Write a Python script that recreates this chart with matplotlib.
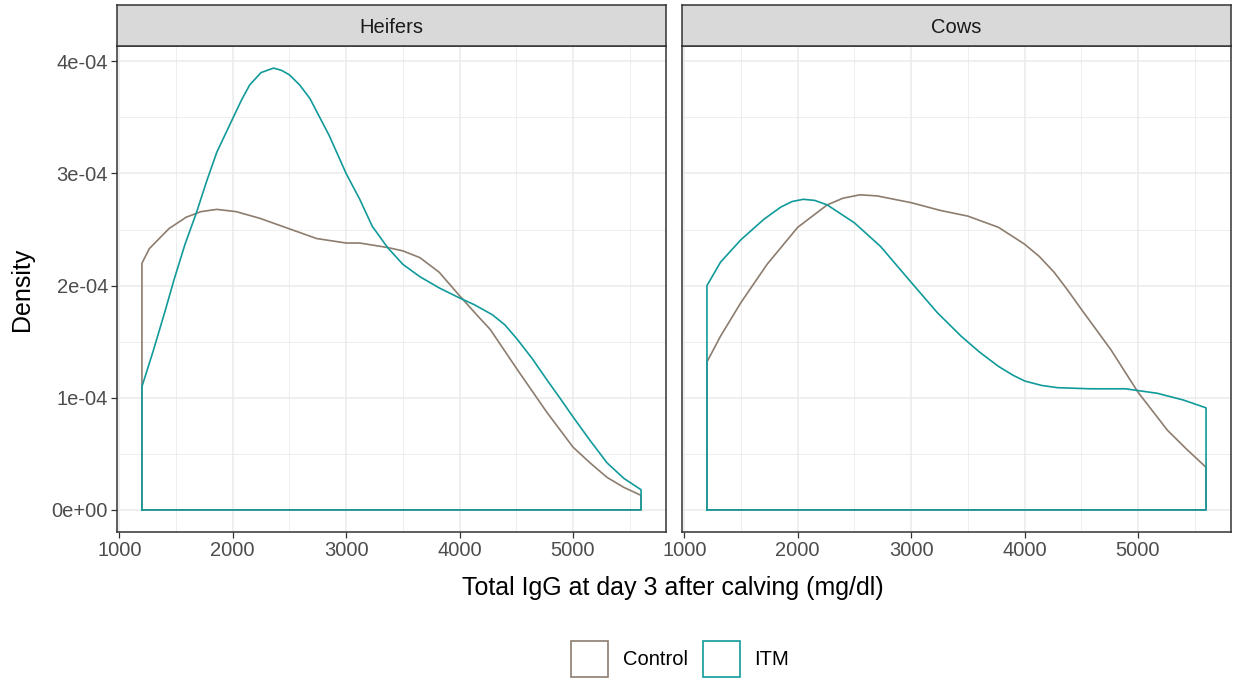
import numpy as np
import matplotlib
matplotlib.use('Agg')
import matplotlib.pyplot as plt
from matplotlib.patches import Patch

plt.rcParams['font.family'] = ['Liberation Sans', 'DejaVu Sans']

# densities, in units of 1e-4
panels = ['Heifers', 'Cows']
groups = ['Control', 'ITM']
colors = {'Control': '#8C7D6E', 'ITM': '#119A9A'}

heifers_control_x = [1200, 1265, 1440, 1590, 1720, 1860, 2030, 2240, 2490, 2740, 3000,
                     3120, 3365, 3500, 3650, 3820, 4000, 4160, 4270, 4510, 4770, 5000,
                     5150, 5300, 5450, 5600]
heifers_control_y = [2.20, 2.33, 2.51, 2.61, 2.66, 2.68, 2.66, 2.60, 2.51, 2.42, 2.38,
                     2.38, 2.34, 2.31, 2.25, 2.12, 1.91, 1.73, 1.61, 1.25, 0.87, 0.56,
                     0.42, 0.29, 0.20, 0.13]

heifers_itm_x = [1200, 1300, 1400, 1485, 1580, 1680, 1770, 1860, 2000, 2080, 2150, 2250,
                 2360, 2430, 2500, 2590, 2680, 2850, 3000, 3120, 3230, 3365, 3500, 3650,
                 3820, 4000, 4130, 4290, 4400, 4510, 4640, 4770, 4890, 5000, 5150, 5300,
                 5450, 5600]
heifers_itm_y = [1.10, 1.42, 1.76, 2.06, 2.37, 2.65, 2.93, 3.19, 3.49, 3.66, 3.79, 3.90,
                 3.94, 3.92, 3.88, 3.79, 3.67, 3.34, 3.00, 2.77, 2.53, 2.34, 2.19, 2.08,
                 1.98, 1.89, 1.83, 1.74, 1.65, 1.52, 1.35, 1.16, 0.99, 0.83, 0.62, 0.42,
                 0.28, 0.18]

cows_control_x = [1200, 1320, 1500, 1730, 2000, 2260, 2400, 2550, 2700, 2850, 3000, 3260,
                  3500, 3770, 4000, 4130, 4260, 4380, 4500, 4630, 4760, 4880, 5000, 5130,
                  5260, 5430, 5600]
cows_control_y = [1.32, 1.55, 1.85, 2.19, 2.52, 2.72, 2.78, 2.81, 2.80, 2.77, 2.74, 2.67,
                  2.62, 2.52, 2.37, 2.26, 2.12, 1.96, 1.79, 1.61, 1.43, 1.24, 1.05, 0.88,
                  0.71, 0.54, 0.38]

cows_itm_x = [1200, 1320, 1500, 1700, 1850, 1950, 2050, 2150, 2260, 2500, 2730, 3000,
              3230, 3440, 3600, 3770, 3900, 4000, 4150, 4290, 4580, 4890, 5170, 5400,
              5600]
cows_itm_y = [2.00, 2.21, 2.41, 2.59, 2.70, 2.75, 2.77, 2.76, 2.72, 2.56, 2.35, 2.03,
              1.76, 1.55, 1.41, 1.28, 1.20, 1.15, 1.11, 1.09, 1.08, 1.08, 1.04, 0.98,
              0.91]

curves = {
    ('Heifers', 'Control'): (heifers_control_x, heifers_control_y),
    ('Heifers', 'ITM'): (heifers_itm_x, heifers_itm_y),
    ('Cows', 'Control'): (cows_control_x, cows_control_y),
    ('Cows', 'ITM'): (cows_itm_x, cows_itm_y),
}

x_ticks = [1000, 2000, 3000, 4000, 5000]
y_ticks = [0, 1e-4, 2e-4, 3e-4, 4e-4]
y_labels = ['0e+00', '1e-04', '2e-04', '3e-04', '4e-04']

W, H = 1233, 683
fig = plt.figure(figsize=(W / 100, H / 100), dpi=100)

def fx(px):
    return px / W

def fy(py):
    return 1 - py / H

lefts = [117, 682]
pw = 549
top, bottom = 46, 532
strip_top = 5
edge = '#333333'
small = 14.5

for i, name in enumerate(panels):
    ax = fig.add_axes([fx(lefts[i]), fy(bottom), pw / W, (bottom - top) / H])
    xmin, xmax = 1200, 5600
    ax.set_xlim(xmin - 0.05 * (xmax - xmin), xmax + 0.05 * (xmax - xmin))
    ymax = max(heifers_itm_y) * 1e-4
    ax.set_ylim(-0.05 * ymax, ymax * 1.05)

    ax.set_xticks(x_ticks)
    ax.set_xticks([1500, 2500, 3500, 4500, 5500], minor=True)
    ax.set_yticks(y_ticks)
    ax.set_yticks([0.5e-4, 1.5e-4, 2.5e-4, 3.5e-4], minor=True)
    ax.grid(which='major', color='#EBEBEB', linewidth=1.1)
    ax.grid(which='minor', color='#EBEBEB', linewidth=0.6)
    ax.set_axisbelow(True)
    ax.tick_params(which='minor', length=0)
    ax.tick_params(which='major', length=4.5, width=0.9, color=edge,
                   labelsize=small, labelcolor='#4D4D4D', pad=2)
    ax.set_xticklabels([str(t) for t in x_ticks])
    if i == 0:
        ax.set_yticklabels(y_labels)
    else:
        ax.tick_params(axis='y', left=False, labelleft=False)
    for s in ax.spines.values():
        s.set_color(edge)
        s.set_linewidth(1.1)

    for g in groups:
        xs, ys = curves[(name, g)]
        px = [xs[0]] + list(xs) + [xs[-1], xs[0]]
        py = [0] + [v * 1e-4 for v in ys] + [0, 0]
        ax.plot(px, py, color=colors[g], linewidth=1.2, solid_joinstyle='round')

    # facet strip
    sax = fig.add_axes([fx(lefts[i]), fy(top), pw / W, (top - strip_top) / H])
    sax.set_facecolor('#D9D9D9')
    sax.set_xticks([])
    sax.set_yticks([])
    for s in sax.spines.values():
        s.set_color(edge)
        s.set_linewidth(1.1)
    sax.text(0.5, 0.45, name, ha='center', va='center', fontsize=small,
             color='#1A1A1A', transform=sax.transAxes)

fig.text(fx(673), fy(588), 'Total IgG at day 3 after calving (mg/dl)',
         ha='center', va='center', fontsize=18, color='black')
fig.text(fx(22), fy(289), 'Density', ha='center', va='center', rotation=90,
         fontsize=18, color='black')

handles = [Patch(facecolor='white', edgecolor=colors[g], linewidth=1.2) for g in groups]
fig.legend(handles, groups, loc='center', bbox_to_anchor=(fx(680), fy(659)),
           ncol=2, frameon=False, fontsize=small, handlelength=1.85, handleheight=2.35,
           handletextpad=0.7, columnspacing=0.75, borderaxespad=0)

fig.savefig('out.png', dpi=100)
